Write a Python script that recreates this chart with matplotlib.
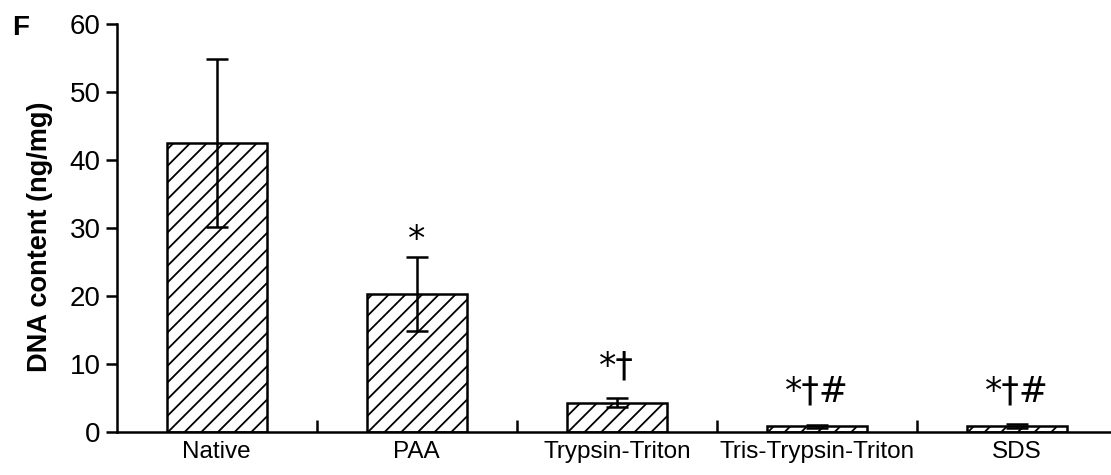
import numpy as np, matplotlib
matplotlib.use("Agg")
import matplotlib.pyplot as plt

plt.rcParams["font.family"] = ["Liberation Sans", "DejaVu Sans"]
plt.rcParams["hatch.linewidth"] = 1.3

groups = ["Native", "PAA", "Trypsin-Triton", "Tris-Trypsin-Triton", "SDS"]
dna = [42.5, 20.3, 4.3, 0.8, 0.9]
err = [12.4, 5.4, 0.7, 0.2, 0.3]
marks = ["", "*", "*\u2020", "*\u2020#", "*\u2020#"]
mark_y = [None, 26.8, 8.2, 4.4, 4.4]

fig = plt.figure(figsize=(11.11, 4.75), dpi=100)
ax = fig.add_axes([0.105, 0.091, 0.895, 0.858])
x = np.arange(len(groups))
ax.bar(x, dna, width=0.5, color="white", edgecolor="black", hatch="//", lw=1.8, zorder=2)
ax.errorbar(x, dna, yerr=err, fmt="none", ecolor="black", elinewidth=1.8, capsize=8, capthick=1.8, zorder=3)
for xi, m, my in zip(x, marks, mark_y):
    if m:
        ax.text(xi, my, m, ha="center", va="baseline", fontsize=25, family="DejaVu Sans")

ax.set_xlim(-0.5, 4.47)
ax.set_ylim(0, 60)
ax.set_yticks(range(0, 61, 10))
ax.set_xticks(x)
ax.set_xticklabels(groups, fontsize=17.5)
ax.set_xticks(x[:-1] + 0.5, minor=True)
ax.tick_params(axis="x", which="major", length=0, pad=7)
ax.tick_params(axis="x", which="minor", direction="in", length=9, width=1.8)
ax.tick_params(axis="y", labelsize=20, length=8, width=1.8)
for s in ["top", "right"]:
    ax.spines[s].set_visible(False)
for s in ["left", "bottom"]:
    ax.spines[s].set_linewidth(1.8)
ax.set_ylabel("DNA content (ng/mg)", fontsize=19.5, fontweight="bold")
ax.yaxis.set_label_coords(-0.064, 0.478)
fig.text(0.011, 0.926, "F", fontsize=20, fontweight="bold", va="baseline")
fig.savefig("out.png", dpi=100, facecolor="white")
